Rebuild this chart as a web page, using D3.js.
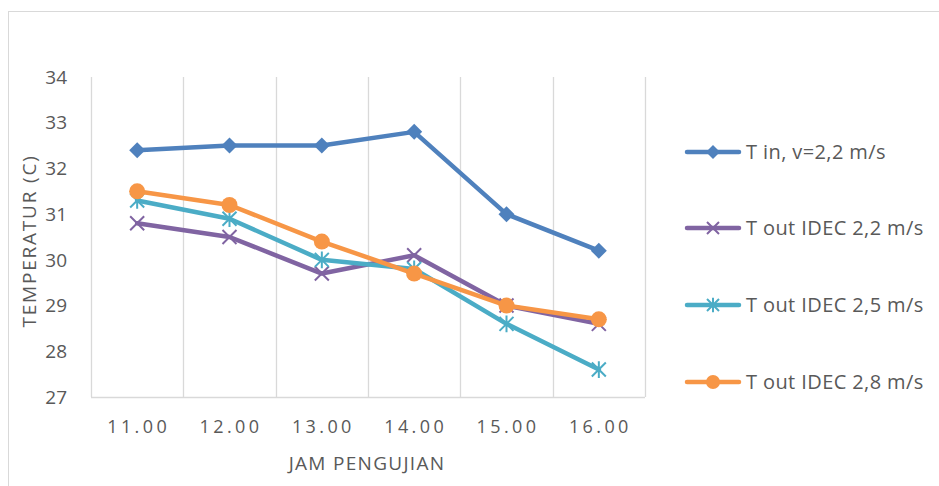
<!DOCTYPE html>
<html>
<head>
<meta charset="utf-8">
<script src="https://cdn.jsdelivr.net/npm/d3@7"></script>
<style>
  body { margin: 0; background: #fff; }
  text { font-family: "Open Sans", "Liberation Sans", sans-serif; fill: #595959; }
</style>
</head>
<body>
<script>
const width = 939;
const height = 486;

// data
const hours = ["11.00", "12.00", "13.00", "14.00", "15.00", "16.00"];
const yTicks = [27, 28, 29, 30, 31, 32, 33, 34];
const seriesNames = ["T in, v=2,2 m/s", "T out IDEC 2,2 m/s", "T out IDEC 2,5 m/s", "T out IDEC 2,8 m/s"];
const tIn = [32.4, 32.5, 32.5, 32.8, 31.0, 30.2];
const tOut22 = [30.8, 30.5, 29.7, 30.1, 29.0, 28.6];
const tOut25 = [31.3, 30.9, 30.0, 29.8, 28.6, 27.6];
const tOut28 = [31.5, 31.2, 30.4, 29.7, 29.0, 28.7];

const colors = ["#4f81bd", "#8064a2", "#4bacc6", "#f79646"];
const markers = ["diamond", "x", "star", "circle"];
const allSeries = [tIn, tOut22, tOut25, tOut28];

const plot = { left: 91, right: 645, top: 77, bottom: 397 };

const svg = d3.select("body").append("svg")
    .attr("width", width)
    .attr("height", height);

// outer frame
svg.append("rect")
    .attr("x", 8.5).attr("y", 11.5)
    .attr("width", 960).attr("height", 500)
    .attr("fill", "none")
    .attr("stroke", "#d9d9d9");

const x = d3.scaleBand().domain(hours).range([plot.left, plot.right]);
const y = d3.scaleLinear().domain([27, 34]).range([plot.bottom, plot.top]);

// vertical gridlines at category boundaries
const bounds = hours.map(h => x(h)).concat([plot.right]);
svg.append("g").selectAll("line")
    .data(bounds)
    .join("line")
    .attr("x1", d => Math.round(d) + 0.5).attr("x2", d => Math.round(d) + 0.5)
    .attr("y1", plot.top).attr("y2", plot.bottom)
    .attr("stroke", "#d9d9d9")
    .attr("stroke-width", 1.3);

// bottom axis line
svg.append("line")
    .attr("x1", plot.left).attr("x2", plot.right)
    .attr("y1", plot.bottom + 0.5).attr("y2", plot.bottom + 0.5)
    .attr("stroke", "#d9d9d9")
    .attr("stroke-width", 1.3);

// y tick labels
svg.append("g").selectAll("text")
    .data(yTicks)
    .join("text")
    .attr("x", 67)
    .attr("y", d => y(d))
    .attr("dy", "0.35em")
    .attr("text-anchor", "end")
    .attr("font-size", 19)
    .text(d => d);

// x tick labels
svg.append("g").selectAll("text")
    .data(hours)
    .join("text")
    .attr("x", d => x(d) + x.bandwidth() / 2 + 1.5)
    .attr("y", 427)
    .attr("dy", "0.35em")
    .attr("text-anchor", "middle")
    .attr("font-size", 18)
    .attr("letter-spacing", 3.4)
    .text(d => d);

// axis titles
svg.append("text")
    .attr("x", 367).attr("y", 463)
    .attr("dy", "0.35em")
    .attr("text-anchor", "middle")
    .attr("font-size", 19)
    .attr("letter-spacing", 1.3)
    .text("JAM PENGUJIAN");

svg.append("text")
    .attr("transform", "translate(29,241) rotate(-90)")
    .attr("dy", "0.35em")
    .attr("text-anchor", "middle")
    .attr("font-size", 19)
    .attr("letter-spacing", 1.8)
    .text("TEMPERATUR (C)");

function drawMarker(g, type, cx, cy, color, s) {
    if (type === "diamond") {
        g.append("path")
            .attr("d", `M${cx},${cy - s}L${cx + s},${cy}L${cx},${cy + s}L${cx - s},${cy}Z`)
            .attr("fill", color);
    } else if (type === "circle") {
        g.append("circle").attr("cx", cx).attr("cy", cy).attr("r", s).attr("fill", color);
    } else if (type === "x") {
        g.append("path")
            .attr("d", `M${cx - s},${cy - s}L${cx + s},${cy + s}M${cx - s},${cy + s}L${cx + s},${cy - s}`)
            .attr("stroke", color).attr("stroke-width", 2);
    } else if (type === "star") {
        g.append("path")
            .attr("d", `M${cx - s},${cy - s}L${cx + s},${cy + s}M${cx - s},${cy + s}L${cx + s},${cy - s}M${cx},${cy - s * 1.2}L${cx},${cy + s * 1.2}`)
            .attr("stroke", color).attr("stroke-width", 2);
    }
}

const markerSize = { diamond: 8, x: 7, star: 7, circle: 8 };

const line = d3.line()
    .x((d, i) => x(hours[i]) + x.bandwidth() / 2)
    .y(d => y(d));

allSeries.forEach((vals, k) => {
    const g = svg.append("g");
    g.append("path")
        .attr("d", line(vals))
        .attr("fill", "none")
        .attr("stroke", colors[k])
        .attr("stroke-width", 4.5)
        .attr("stroke-linejoin", "round")
        .attr("stroke-linecap", "round");
    vals.forEach((v, i) => {
        drawMarker(g, markers[k], x(hours[i]) + x.bandwidth() / 2, y(v), colors[k], markerSize[markers[k]]);
    });
});

// legend
const legendY = [152, 228, 305, 382];
seriesNames.forEach((name, k) => {
    const g = svg.append("g");
    g.append("line")
        .attr("x1", 687).attr("x2", 739)
        .attr("y1", legendY[k]).attr("y2", legendY[k])
        .attr("stroke", colors[k])
        .attr("stroke-width", 4.5)
        .attr("stroke-linecap", "round");
    drawMarker(g, markers[k], 713, legendY[k], colors[k], markerSize[markers[k]] - 1);
    g.append("text")
        .attr("x", 746).attr("y", legendY[k])
        .attr("dy", "0.35em")
        .attr("font-size", 20)
        .attr("letter-spacing", 0.4)
        .text(name);
});
</script>
</body>
</html>
